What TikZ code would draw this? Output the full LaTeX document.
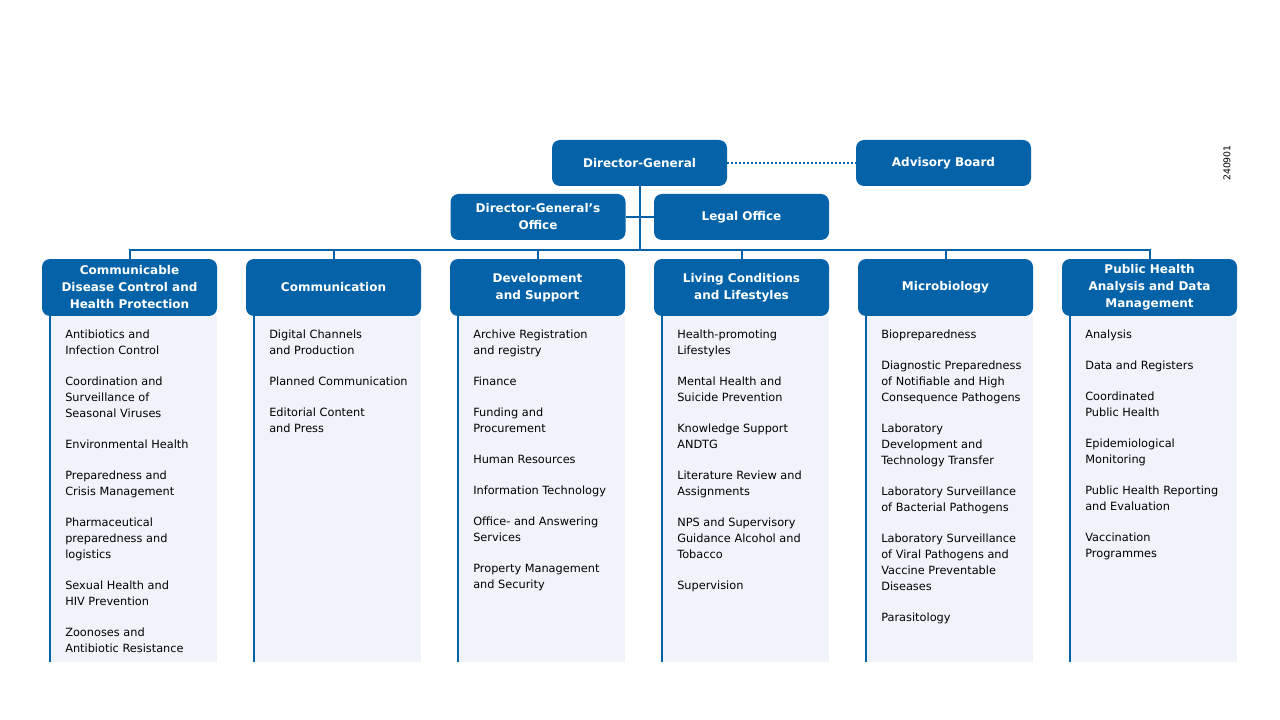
\documentclass[tikz,border=0pt]{standalone}
\usepackage{fontspec}
\setmainfont{DejaVu Sans}
\usetikzlibrary{positioning}
\definecolor{orgblue}{RGB}{4,99,168}
\definecolor{panelbg}{RGB}{240,244,250}
\newcommand{\itemgap}{\\[11.25pt]}

\begin{document}
\begin{tikzpicture}[x=0.75pt,y=-0.75pt,
head/.style={fill=orgblue,rounded corners=6pt,text=white,align=center,inner sep=0pt,outer sep=0pt,
    minimum width=131.25pt,minimum height=34.5pt,
    font=\bfseries\fontsize{9}{12.75}\selectfont},
unit/.style={head,minimum height=42.75pt},
panel/.style={fill=panelbg,inner sep=0pt,outer sep=0pt,minimum width=125.25pt,minimum height=259.5pt},
items/.style={align=left,inner sep=0pt,anchor=north west,execute at begin node=\strut,
    font=\fontsize{8.5}{12}\selectfont},
line/.style={draw=orgblue,line width=1.5pt}]
\useasboundingbox (0,0) rectangle (1280,720);

% management
\node (dg) [head] at (639.5,163) {Director-General};
\node (board) [head] at (943.5,163) {Advisory Board};
\node (dgo) [head] at (538,217) {Director-General’s\\Office};
\node (legal) [head] at (741.5,217) {Legal Office};

% departments
\node (c1) [unit] at (129.5,287.5) {Communicable\\Disease Control and\\Health Protection};
\node (c2) [unit,right=21.75pt of c1] {Communication};
\node (c3) [unit,right=21.75pt of c2] {Development\\and Support};
\node (c4) [unit,right=21.75pt of c3] {Living Conditions\\and Lifestyles};
\node (c5) [unit,right=21.75pt of c4] {Microbiology};
\node (c6) [unit,right=21.75pt of c5] {Public Health\\Analysis and Data\\Management};

\foreach \i in {1,...,6} {
  \node (p\i) [panel,below left=0pt of c\i.south east] {};
  \draw[line] (p\i.north west) -- (p\i.south west);
}

% units
\node (u1) [items] at ([shift={(11.25pt,-10.35pt)}]p1.north west)
  {Antibiotics and\\Infection Control\itemgap
   Coordination and\\Surveillance of\\Seasonal Viruses\itemgap
   Environmental Health\itemgap
   Preparedness and\\Crisis Management\itemgap
   Pharmaceutical\\preparedness and\\logistics\itemgap
   Sexual Health and\\HIV Prevention\itemgap
   Zoonoses and\\Antibiotic Resistance};
\node (u2) [items] at ([shift={(11.25pt,-10.35pt)}]p2.north west)
  {Digital Channels\\and Production\itemgap
   Planned Communication\itemgap
   Editorial Content\\and Press};
\node (u3) [items] at ([shift={(11.25pt,-10.35pt)}]p3.north west)
  {Archive Registration\\and registry\itemgap
   Finance\itemgap
   Funding and\\Procurement\itemgap
   Human Resources\itemgap
   Information Technology\itemgap
   Office- and Answering\\Services\itemgap
   Property Management\\and Security};
\node (u4) [items] at ([shift={(11.25pt,-10.35pt)}]p4.north west)
  {Health-promoting\\Lifestyles\itemgap
   Mental Health and\\Suicide Prevention\itemgap
   Knowledge Support\\ANDTG\itemgap
   Literature Review and\\Assignments\itemgap
   NPS and Supervisory\\Guidance Alcohol and\\Tobacco\itemgap
   Supervision};
\node (u5) [items] at ([shift={(11.25pt,-10.35pt)}]p5.north west)
  {Biopreparedness\itemgap
   Diagnostic Preparedness\\of Notifiable and High\\Consequence Pathogens\itemgap
   Laboratory\\Development and\\Technology Transfer\itemgap
   Laboratory Surveillance\\of Bacterial Pathogens\itemgap
   Laboratory Surveillance\\of Viral Pathogens and\\Vaccine Preventable\\Diseases\itemgap
   Parasitology};
\node (u6) [items] at ([shift={(11.25pt,-10.35pt)}]p6.north west)
  {Analysis\itemgap
   Data and Registers\itemgap
   Coordinated\\Public Health\itemgap
   Epidemiological\\Monitoring\itemgap
   Public Health Reporting\\and Evaluation\itemgap
   Vaccination\\Programmes};

% connectors
\coordinate (bus) at (639.5,250);
\draw[line] (dg.south) -- (bus);
\draw[line] (dgo.east) -- (legal.west);
\draw[line,dash pattern=on 1.5pt off 1.5pt] (dg.east) -- (board.west);
\draw[line] (c1.north) |- (bus) -| (c6.north);
\foreach \i in {2,...,5}
  \draw[line] (c\i.north) -- (c\i.north |- bus);

\node (code) [rotate=90,font=\fontsize{7}{8}\selectfont] at (1227,163) {240901};
\end{tikzpicture}
\end{document}
